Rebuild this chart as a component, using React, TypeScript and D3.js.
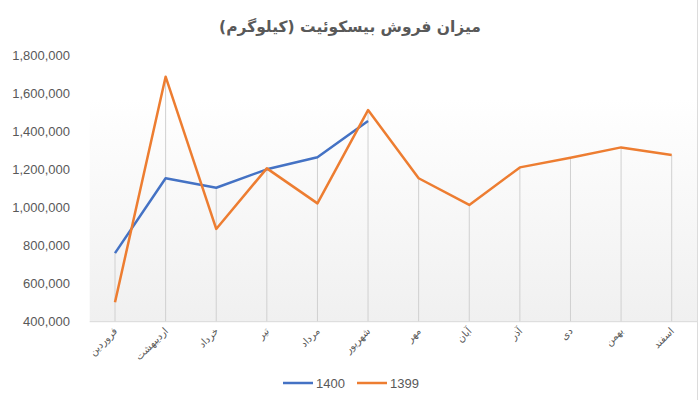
import React from "react";
import * as d3 from "d3";

const months = ["فروردین","اردیبهشت","خرداد","تیر","مرداد","شهریور","مهر","آبان","آذر","دی","بهمن","اسفند"];
const series1400 = [760000, 1153000, 1103000, 1200000, 1263000, 1453000];
const series1399 = [502000, 1686000, 887000, 1205000, 1021000, 1511000, 1153000, 1013000, 1210000, 1261000, 1315000, 1275000];
const yTicks = [400000, 600000, 800000, 1000000, 1200000, 1400000, 1600000, 1800000];
const seriesNames = ["1400", "1399"];
const title = "میزان فروش بیسکوئیت (کیلوگرم)";

const W = 700, H = 400;
const plotL = 89.7, plotR = 697, plotTop = 98, plotB = 321.7;

export default function App() {
  const x = d3.scaleBand<string>().domain(months).range([plotL, plotR]).padding(0);
  const cx = (m: string) => (x(m) as number) + x.bandwidth() / 2;
  const y = d3.scaleLinear().domain([400000, 1800000]).range([plotB, 55]);
  const line = d3.line<number>().x((_, i) => cx(months[i])).y((d) => y(d));
  const fmt = d3.format(",");
  const colors = ["#4472C4", "#ED7D31"];
  const gray = "#595959";

  return (
    <svg width={W} height={H} style={{ position: "absolute", left: 0, top: 0, background: "#fff" }}>
      <defs>
        <linearGradient id="pg" x1="0" y1="0" x2="0" y2="1">
          <stop offset="0" stopColor="#ffffff" />
          <stop offset="1" stopColor="#f0f0f0" />
        </linearGradient>
      </defs>
      <rect x={0} y={0} width={W} height={H} fill="#fff" />
      <rect x={plotL} y={plotTop} width={plotR - plotL} height={plotB - plotTop} fill="url(#pg)" />
      <line x1={697.5} x2={697.5} y1={0} y2={H} stroke="#dcdcdc" strokeWidth={1} />
      <text x={350} y={32} textAnchor="middle" fontFamily="DejaVu Sans" fontWeight="bold" fontSize={15.5} fill={gray}>{title}</text>
      {yTicks.map((t) => (
        <text key={t} x={70} y={y(t)} dy="0.35em" textAnchor="end" fontFamily="Liberation Sans" fontSize={13} fill={gray}>{fmt(t)}</text>
      ))}
      {months.map((m, i) => {
        const v = Math.max(series1399[i] ?? -Infinity, series1400[i] ?? -Infinity);
        return <line key={m} x1={cx(m)} x2={cx(m)} y1={y(v)} y2={plotB} stroke="#d0d0d0" strokeWidth={1} />;
      })}
      <line x1={plotL} x2={plotR} y1={plotB} y2={plotB} stroke="#d9d9d9" strokeWidth={1} />
      <path d={line(series1400) as string} fill="none" stroke={colors[0]} strokeWidth={2.5} strokeLinejoin="round" />
      <path d={line(series1399) as string} fill="none" stroke={colors[1]} strokeWidth={2.5} strokeLinejoin="round" />
      {months.map((m) => (
        <text key={m} transform={`translate(${cx(m) + 3},${plotB + 10}) rotate(-45)`} textAnchor="end" fontFamily="DejaVu Sans" fontSize={10} fill={gray}>{m}</text>
      ))}
      {seriesNames.map((s, i) => (
        <g key={s} transform={`translate(${283 + i * 74},383)`}>
          <line x1={0} x2={30} y1={0} y2={0} stroke={colors[i]} strokeWidth={2.5} />
          <text x={33} y={0} dy="0.35em" fontFamily="Liberation Sans" fontSize={13} fill={gray}>{s}</text>
        </g>
      ))}
    </svg>
  );
}
